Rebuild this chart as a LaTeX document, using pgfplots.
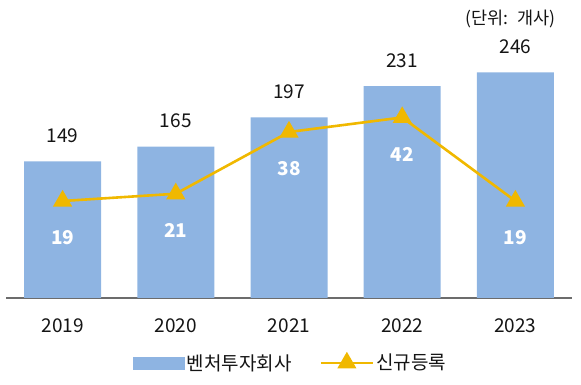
\documentclass[border=0pt]{standalone}
\usepackage{pgfplots}
\pgfplotsset{compat=1.18}
\usepackage{fontspec}
\setmainfont{Noto Sans CJK KR}
\definecolor{barblue}{RGB}{142,180,226}
\definecolor{lineyel}{RGB}{240,184,0}
\definecolor{txt}{RGB}{20,20,20}
\pgfplotsset{linelegend/.style={legend image code/.code={\draw[mark repeat=2,mark phase=2,##1] plot coordinates {(0pt,0pt) (26pt,0pt) (52pt,0pt)};}}}
\begin{document}
\begin{tikzpicture}[x=1pt,y=1pt]
\useasboundingbox (0,0) rectangle (581,385);
\begin{axis}[
  at={(6pt,87pt)}, anchor=south west,
  scale only axis, width=566pt, height=275pt,
  xmin=-0.5, xmax=4.5, ymin=0, ymax=300,
  axis y line=none, axis x line*=bottom,
  x axis line style={-, draw=gray!85!black, line width=1.3pt},
  xtick={0,1,2,3,4}, xticklabels={2019,2020,2021,2022,2023},
  major tick length=0pt,
  xticklabel style={font=\fontsize{19}{22}\selectfont, text=txt, yshift=-17pt},
  ybar, bar width=77pt,
  /pgf/number format/assume math mode=true,
  nodes near coords,
  every node near coord/.append style={font=\fontsize{19}{22}\selectfont, text=txt, anchor=center, yshift=26pt},
]
\addplot[fill=barblue, draw=none] coordinates {(0,149)(1,165)(2,197)(3,231)(4,246)};
\end{axis}
\begin{axis}[
  at={(6pt,87pt)}, anchor=south west,
  scale only axis, width=566pt, height=275pt,
  xmin=-0.5, xmax=4.5, ymin=-7.7, ymax=68,
  hide axis,
  /pgf/number format/assume math mode=true,
  nodes near coords,
  every node near coord/.append style={font=\bfseries\fontsize{19}{22}\selectfont, text=white, anchor=center, yshift=-37pt},
  legend style={at={(0.503,-0.236)}, anchor=center, draw=none, fill=none, legend columns=2, font=\fontsize{19}{22}\selectfont, text=txt, /tikz/every even column/.append style={column sep=26pt}},
  legend cell align=left,
]
\addlegendimage{legend image code/.code={\fill[barblue] (0pt,-6pt) rectangle (51pt,6pt);}}
\addlegendentry{벤처투자회사}
\addplot[lineyel, line width=2.6pt, mark=triangle*, mark size=8.5pt, mark options={solid, fill=lineyel}, linelegend]
  coordinates {(0,19)(1,21)(2,38)(3,42)(4,19)};
\addlegendentry{신규등록}
\end{axis}
\node[anchor=east, font=\fontsize{17.5}{20}\selectfont, text=txt] at (559,366) {(단위:\hspace{0.5em}개사)};
\end{tikzpicture}
\end{document}
